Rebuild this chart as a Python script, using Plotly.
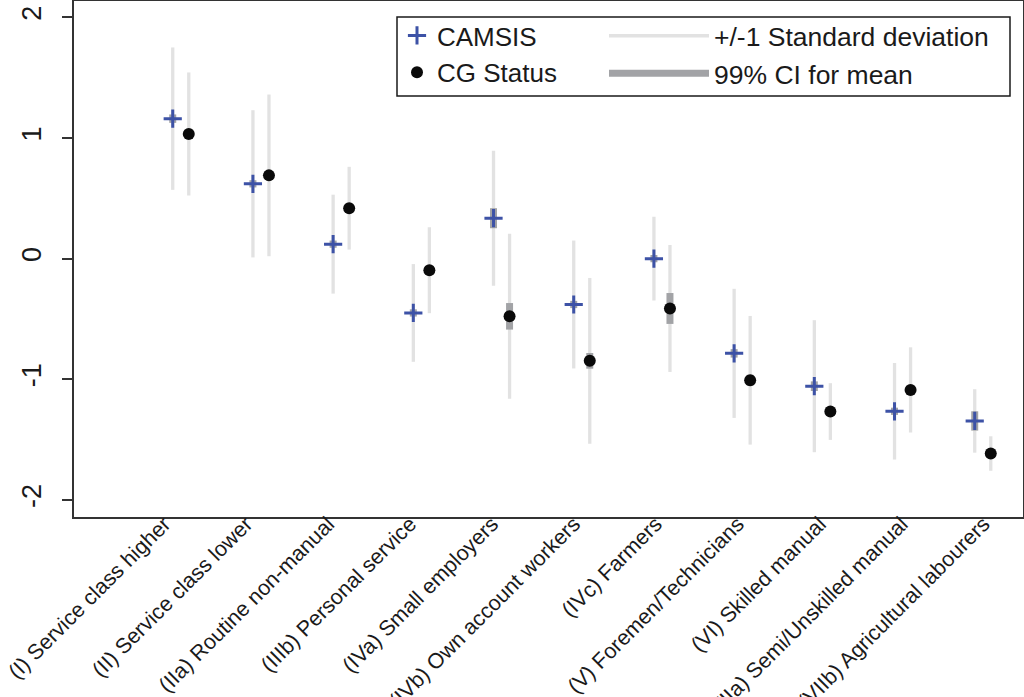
import plotly.graph_objects as go

categories = [
    "(I) Service class higher",
    "(II) Service class lower",
    "(IIa) Routine non-manual",
    "(IIIb) Personal service",
    "(IVa) Small employers",
    "(IVb) Own account workers",
    "(IVc) Farmers",
    "(V) Foremen/Technicians",
    "(VI) Skilled manual",
    "(VIIa) Semi/Unskilled manual",
    "(VIIb) Agricultural labourers",
]
camsis_mean = [1.16, 0.62, 0.12, -0.45, 0.335, -0.38, 0.00, -0.785, -1.057, -1.265, -1.345]
camsis_sd = [0.59, 0.61, 0.41, 0.405, 0.56, 0.53, 0.347, 0.535, 0.547, 0.40, 0.263]
camsis_ci = [0.035, 0.03, 0.03, 0.03, 0.083, 0.03, 0.03, 0.035, 0.04, 0.03, 0.08]
cg_mean = [1.033, 0.69, 0.418, -0.096, -0.478, -0.847, -0.413, -1.008, -1.267, -1.088, -1.615]
cg_sd = [0.51, 0.67, 0.343, 0.356, 0.684, 0.687, 0.526, 0.533, 0.235, 0.353, 0.143]
cg_ci = [0.03, 0.03, 0.03, 0.03, 0.11, 0.065, 0.128, 0.045, 0.03, 0.03, 0.03]
y_ticks = [-2, -1, 0, 1, 2]

OFFSET_CG = 0.2
TICK_SHIFT = -0.105
TICK_STRETCH = 0.0215

x_camsis = list(range(len(categories)))
x_cg = [i + OFFSET_CG for i in x_camsis]


def segments(xs, means, half):
    sx, sy = [], []
    for x, m, h in zip(xs, means, half):
        sx += [x, x, None]
        sy += [m - h, m + h, None]
    return sx, sy


sd_x1, sd_y1 = segments(x_camsis, camsis_mean, camsis_sd)
sd_x2, sd_y2 = segments(x_cg, cg_mean, cg_sd)
ci_x1, ci_y1 = segments(x_camsis, camsis_mean, camsis_ci)
ci_x2, ci_y2 = segments(x_cg, cg_mean, cg_ci)

FONT = "Liberation Sans, Arial, sans-serif"
BLUE = "#3d52a6"

fig = go.Figure()
fig.add_trace(go.Scatter(
    x=sd_x1 + sd_x2, y=sd_y1 + sd_y2, mode="lines",
    line=dict(color="#e2e2e2", width=3.3),
    name="+/-1 Standard deviation", legend="legend2", hoverinfo="skip",
))
fig.add_trace(go.Scatter(
    x=ci_x1 + ci_x2, y=ci_y1 + ci_y2, mode="lines",
    line=dict(color="#a2a3a6", width=7),
    name="99% CI for mean", legend="legend2", hoverinfo="skip",
))
fig.add_trace(go.Scatter(
    x=x_camsis, y=camsis_mean, mode="markers",
    marker=dict(symbol="cross-thin", size=13, line=dict(color=BLUE, width=3), color=BLUE),
    name="CAMSIS", legend="legend",
))
fig.add_trace(go.Scatter(
    x=x_cg, y=cg_mean, mode="markers",
    marker=dict(symbol="circle", size=12, color="#0a0a0a"),
    name="CG Status", legend="legend",
))

W, H = 1024, 697
ML, MR, MT, MB = 74, 1, 1, 180
pw, ph = W - ML - MR, H - MT - MB


def px2paper_x(px):
    return (px - ML) / pw


def px2paper_y(py):
    return 1 - (py - MT) / ph


fig.update_layout(
    width=W, height=H,
    margin=dict(l=ML, r=MR, t=MT, b=MB, pad=0, autoexpand=False),
    paper_bgcolor="white", plot_bgcolor="white",
    font=dict(family=FONT, color="#1a1a1a"),
    showlegend=True,
    legend=dict(
        x=px2paper_x(397), y=px2paper_y(12), xanchor="left", yanchor="top",
        font=dict(size=26, family=FONT, color="#1a1a1a"),
        bgcolor="rgba(0,0,0,0)", borderwidth=0, itemwidth=30,
        tracegroupgap=0,
    ),
    legend2=dict(
        x=px2paper_x(604), y=px2paper_y(12), xanchor="left", yanchor="top",
        font=dict(size=26.5, family=FONT, color="#1a1a1a"),
        bgcolor="rgba(0,0,0,0)", borderwidth=0, itemwidth=100,
        tracegroupgap=0,
    ),
    shapes=[dict(
        type="rect", xref="paper", yref="paper",
        x0=px2paper_x(397), x1=px2paper_x(1010),
        y0=px2paper_y(96), y1=px2paper_y(17),
        line=dict(color="#1a1a1a", width=1.5), fillcolor="rgba(0,0,0,0)", layer="above",
    )],
    xaxis=dict(
        range=[-1.231, 10.602], automargin=False,
        tickvals=[i + TICK_SHIFT + i * TICK_STRETCH for i in x_camsis], ticktext=categories,
        tickangle=-45, ticks="", showgrid=False, zeroline=False,
        ticklabelstandoff=-16,
        showline=True, mirror=True, linecolor="#333333", linewidth=2,
        tickfont=dict(size=21.5, family=FONT, color="#1a1a1a"),
    ),
    yaxis=dict(
        range=[-2.141, 2.135], automargin=False,
        tickvals=y_ticks, ticktext=[str(v) for v in y_ticks],
        tickangle=-90, ticks="outside", ticklen=10, tickwidth=1.5, tickcolor="#333333",
        ticklabelstandoff=10,
        showgrid=False, zeroline=False,
        showline=True, mirror=True, linecolor="#333333", linewidth=2,
        tickfont=dict(size=27, family=FONT, color="#1a1a1a"),
    ),
)

fig.write_html(
    "out.html",
    config={"displayModeBar": False},
    post_script="document.body.style.margin='0';document.body.style.overflow='hidden';",
)
